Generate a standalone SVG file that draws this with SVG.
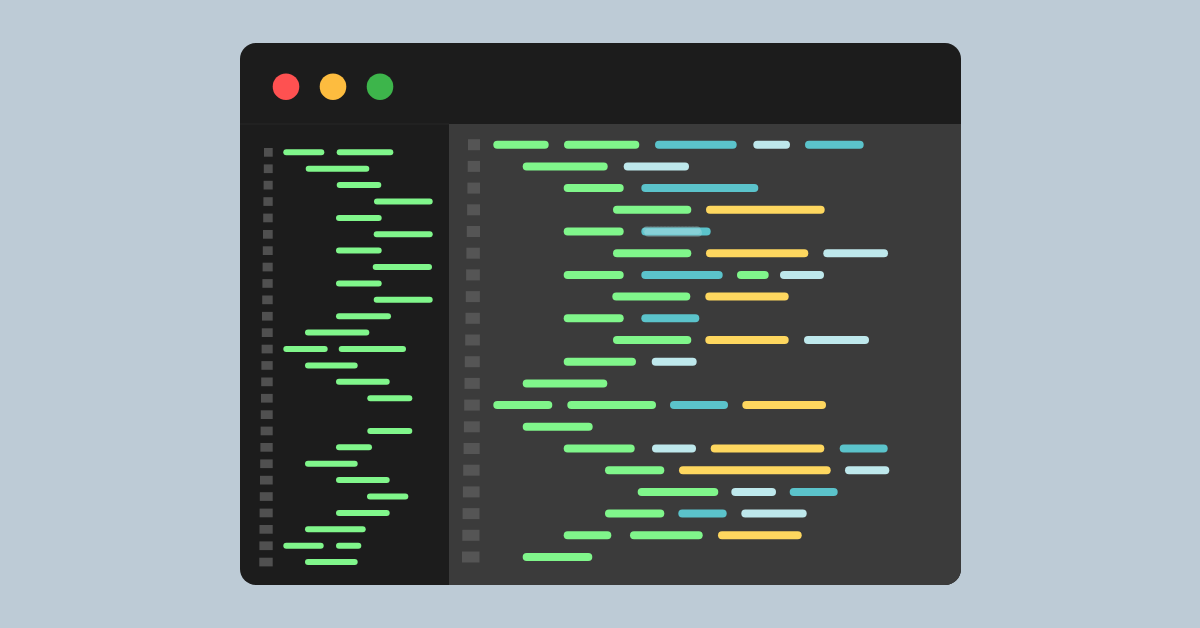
<svg xmlns="http://www.w3.org/2000/svg" width="1200" height="628" viewBox="0 0 1200 628">
<defs>
<style>
.g{stroke:#80f68b}
.t{stroke:#5bc3cb}
.l{stroke:#bee8ec}
.y{stroke:#fed75f}
.L line{stroke-width:6;stroke-linecap:round}
.R line{stroke-width:8;stroke-linecap:round}
.sqL{fill:#505050}
.sqR{fill:#555555}
</style>
</defs>
<rect x="0" y="0" width="1200" height="628" fill="#bdcbd6"/>
<g id="window">
<rect x="240" y="43" width="721" height="542" rx="16" fill="#1c1c1c"/>
<path d="M449 124 H961 V569 A16 16 0 0 1 945 585 H449 Z" fill="#3b3b3b"/>
<path d="M240 124 H449" stroke="#262626" stroke-width="1"/>
</g>
<g id="buttons">
<circle cx="286" cy="86.7" r="13.3" fill="#fe5151"/>
<circle cx="333" cy="86.7" r="13.3" fill="#fdbc3f"/>
<circle cx="380" cy="86.7" r="13.3" fill="#3db54b"/>
</g>
<g id="left-gutter">
<rect class="sqL" x="264" y="148" width="8.7" height="8.7"/>
<rect class="sqL" x="263.8" y="164.4" width="8.9" height="8.7"/>
<rect class="sqL" x="263.6" y="180.8" width="9.1" height="8.7"/>
<rect class="sqL" x="263.4" y="197.2" width="9.3" height="8.7"/>
<rect class="sqL" x="263.2" y="213.6" width="9.5" height="8.7"/>
<rect class="sqL" x="263" y="230" width="9.7" height="8.7"/>
<rect class="sqL" x="262.8" y="246.3" width="9.9" height="8.7"/>
<rect class="sqL" x="262.6" y="262.7" width="10.1" height="8.7"/>
<rect class="sqL" x="262.4" y="279.1" width="10.3" height="8.7"/>
<rect class="sqL" x="262.2" y="295.5" width="10.5" height="8.7"/>
<rect class="sqL" x="262" y="311.9" width="10.7" height="8.7"/>
<rect class="sqL" x="261.8" y="328.3" width="10.9" height="8.7"/>
<rect class="sqL" x="261.6" y="344.7" width="11.1" height="8.7"/>
<rect class="sqL" x="261.4" y="361.1" width="11.3" height="8.7"/>
<rect class="sqL" x="261.2" y="377.5" width="11.5" height="8.7"/>
<rect class="sqL" x="261" y="393.9" width="11.7" height="8.7"/>
<rect class="sqL" x="260.8" y="410.3" width="11.9" height="8.7"/>
<rect class="sqL" x="260.6" y="426.6" width="12.1" height="8.7"/>
<rect class="sqL" x="260.4" y="443" width="12.3" height="8.7"/>
<rect class="sqL" x="260.2" y="459.4" width="12.5" height="8.7"/>
<rect class="sqL" x="260" y="475.8" width="12.7" height="8.7"/>
<rect class="sqL" x="259.8" y="492.2" width="12.9" height="8.7"/>
<rect class="sqL" x="259.6" y="508.6" width="13.1" height="8.7"/>
<rect class="sqL" x="259.5" y="525" width="13.2" height="8.7"/>
<rect class="sqL" x="259.4" y="541.4" width="13.3" height="8.7"/>
<rect class="sqL" x="259.3" y="557.7" width="13.4" height="8.7"/>
</g>
<g id="left-code" class="L">
<line class="g" x1="286.3" y1="152.3" x2="321.3" y2="152.3"/>
<line class="g" x1="339.7" y1="152.3" x2="390.3" y2="152.3"/>
<line class="g" x1="308.7" y1="168.7" x2="366.3" y2="168.7"/>
<line class="g" x1="339.7" y1="185.1" x2="378.3" y2="185.1"/>
<line class="g" x1="377" y1="201.5" x2="429.7" y2="201.5"/>
<line class="g" x1="339" y1="217.9" x2="378.7" y2="217.9"/>
<line class="g" x1="376.7" y1="234.3" x2="429.7" y2="234.3"/>
<line class="g" x1="339" y1="250.6" x2="378.7" y2="250.6"/>
<line class="g" x1="375.7" y1="267" x2="429" y2="267"/>
<line class="g" x1="339" y1="283.4" x2="378.7" y2="283.4"/>
<line class="g" x1="376.7" y1="299.8" x2="429.7" y2="299.8"/>
<line class="g" x1="339" y1="316.2" x2="388" y2="316.2"/>
<line class="g" x1="308" y1="332.6" x2="366.3" y2="332.6"/>
<line class="g" x1="286.3" y1="349" x2="324.7" y2="349"/>
<line class="g" x1="341.7" y1="349" x2="403" y2="349"/>
<line class="g" x1="308" y1="365.4" x2="354.7" y2="365.4"/>
<line class="g" x1="339" y1="381.8" x2="386.7" y2="381.8"/>
<line class="g" x1="370.3" y1="398.2" x2="409.3" y2="398.2"/>
<line class="g" x1="370.3" y1="430.9" x2="409.3" y2="430.9"/>
<line class="g" x1="339" y1="447.3" x2="369" y2="447.3"/>
<line class="g" x1="308" y1="463.7" x2="354.7" y2="463.7"/>
<line class="g" x1="339" y1="480.1" x2="386.7" y2="480.1"/>
<line class="g" x1="370" y1="496.5" x2="405.3" y2="496.5"/>
<line class="g" x1="339" y1="512.9" x2="386.7" y2="512.9"/>
<line class="g" x1="308" y1="529.3" x2="362.7" y2="529.3"/>
<line class="g" x1="286.3" y1="545.7" x2="320.7" y2="545.7"/>
<line class="g" x1="339" y1="545.7" x2="358.3" y2="545.7"/>
<line class="g" x1="308" y1="562" x2="354.7" y2="562"/>
</g>
<g id="right-gutter">
<rect class="sqR" x="468" y="139.2" width="12" height="11"/>
<rect class="sqR" x="467.7" y="160.9" width="12.3" height="11"/>
<rect class="sqR" x="467.4" y="182.6" width="12.6" height="11"/>
<rect class="sqR" x="467.1" y="204.3" width="12.9" height="11"/>
<rect class="sqR" x="466.8" y="226" width="13.2" height="11"/>
<rect class="sqR" x="466.4" y="247.7" width="13.5" height="11"/>
<rect class="sqR" x="466.1" y="269.4" width="13.8" height="11"/>
<rect class="sqR" x="465.8" y="291.1" width="14.1" height="11"/>
<rect class="sqR" x="465.5" y="312.8" width="14.4" height="11"/>
<rect class="sqR" x="465.2" y="334.5" width="14.7" height="11"/>
<rect class="sqR" x="464.8" y="356.2" width="15" height="11"/>
<rect class="sqR" x="464.5" y="377.9" width="15.3" height="11"/>
<rect class="sqR" x="464.2" y="399.6" width="15.6" height="11"/>
<rect class="sqR" x="463.9" y="421.3" width="15.9" height="11"/>
<rect class="sqR" x="463.6" y="443" width="16.1" height="11"/>
<rect class="sqR" x="463.2" y="464.7" width="16.4" height="11"/>
<rect class="sqR" x="462.9" y="486.4" width="16.7" height="11"/>
<rect class="sqR" x="462.6" y="508.1" width="16.9" height="11"/>
<rect class="sqR" x="462.3" y="529.8" width="17.2" height="11"/>
<rect class="sqR" x="462" y="551.5" width="17.5" height="11"/>
</g>
<g id="right-code" class="R">
<line class="g" x1="497.3" y1="144.7" x2="544.7" y2="144.7"/>
<line class="g" x1="568" y1="144.7" x2="635.3" y2="144.7"/>
<line class="t" x1="659" y1="144.7" x2="732.7" y2="144.7"/>
<line class="l" x1="757.3" y1="144.7" x2="786" y2="144.7"/>
<line class="t" x1="809" y1="144.7" x2="859.7" y2="144.7"/>

<line class="g" x1="526.7" y1="166.4" x2="603.7" y2="166.4"/>
<line class="l" x1="627.7" y1="166.4" x2="685" y2="166.4"/>

<line class="g" x1="567.7" y1="188.1" x2="619.7" y2="188.1"/>
<line class="t" x1="645.3" y1="188.1" x2="754.3" y2="188.1"/>

<line class="g" x1="617" y1="209.8" x2="687.3" y2="209.8"/>
<line class="y" x1="710" y1="209.8" x2="820.7" y2="209.8"/>

<line class="g" x1="567.7" y1="231.5" x2="619.7" y2="231.5"/>
<line class="t" x1="645.3" y1="231.5" x2="706.7" y2="231.5"/>
<line x1="647" y1="230.3" x2="698" y2="230.3" stroke="#a8dde2" stroke-width="0.7" stroke-dasharray="0.7 2.8" stroke-linecap="butt" opacity="0.35"/>
<line x1="648.5" y1="232.8" x2="698" y2="232.8" stroke="#a8dde2" stroke-width="0.7" stroke-dasharray="0.7 2.8" stroke-linecap="butt" opacity="0.35"/>

<line class="g" x1="617" y1="253.2" x2="687.3" y2="253.2"/>
<line class="y" x1="710" y1="253.2" x2="804.3" y2="253.2"/>
<line class="l" x1="827.3" y1="253.2" x2="884" y2="253.2"/>

<line class="g" x1="567.7" y1="274.9" x2="619.7" y2="274.9"/>
<line class="t" x1="645.3" y1="274.9" x2="718.7" y2="274.9"/>
<line class="g" x1="741" y1="274.9" x2="764.7" y2="274.9"/>
<line class="l" x1="784" y1="274.9" x2="820" y2="274.9"/>

<line class="g" x1="616.3" y1="296.6" x2="686.3" y2="296.6"/>
<line class="y" x1="709.3" y1="296.6" x2="784.7" y2="296.6"/>

<line class="g" x1="567.7" y1="318.3" x2="619.7" y2="318.3"/>
<line class="t" x1="645.3" y1="318.3" x2="695.3" y2="318.3"/>

<line class="g" x1="617" y1="340" x2="687.3" y2="340"/>
<line class="y" x1="709.3" y1="340" x2="784.7" y2="340"/>
<line class="l" x1="808" y1="340" x2="865" y2="340"/>

<line class="g" x1="567.7" y1="361.7" x2="632" y2="361.7"/>
<line class="l" x1="655.7" y1="361.7" x2="692.7" y2="361.7"/>

<line class="g" x1="526.7" y1="383.4" x2="603.3" y2="383.4"/>

<line class="g" x1="497.3" y1="405.1" x2="548.3" y2="405.1"/>
<line class="g" x1="571.3" y1="405.1" x2="652" y2="405.1"/>
<line class="t" x1="674" y1="405.1" x2="724" y2="405.1"/>
<line class="y" x1="746.3" y1="405.1" x2="822" y2="405.1"/>

<line class="g" x1="526.7" y1="426.8" x2="588.7" y2="426.8"/>

<line class="g" x1="567.7" y1="448.5" x2="630.7" y2="448.5"/>
<line class="l" x1="656" y1="448.5" x2="692" y2="448.5"/>
<line class="y" x1="714.7" y1="448.5" x2="820.3" y2="448.5"/>
<line class="t" x1="843.7" y1="448.5" x2="883.7" y2="448.5"/>

<line class="g" x1="609" y1="470.2" x2="660.3" y2="470.2"/>
<line class="y" x1="683" y1="470.2" x2="826.7" y2="470.2"/>
<line class="l" x1="849" y1="470.2" x2="885.3" y2="470.2"/>

<line class="g" x1="641.7" y1="491.9" x2="714.3" y2="491.9"/>
<line class="l" x1="735.3" y1="491.9" x2="772" y2="491.9"/>
<line class="t" x1="793.7" y1="491.9" x2="833.7" y2="491.9"/>

<line class="g" x1="609" y1="513.6" x2="660.3" y2="513.6"/>
<line class="t" x1="682.3" y1="513.6" x2="722.7" y2="513.6"/>
<line class="l" x1="745.3" y1="513.6" x2="802.7" y2="513.6"/>

<line class="g" x1="567.7" y1="535.3" x2="607.3" y2="535.3"/>
<line class="g" x1="634" y1="535.3" x2="698.7" y2="535.3"/>
<line class="y" x1="722" y1="535.3" x2="797.7" y2="535.3"/>

<line class="g" x1="526.7" y1="557" x2="588.3" y2="557"/>
</g>
</svg>
